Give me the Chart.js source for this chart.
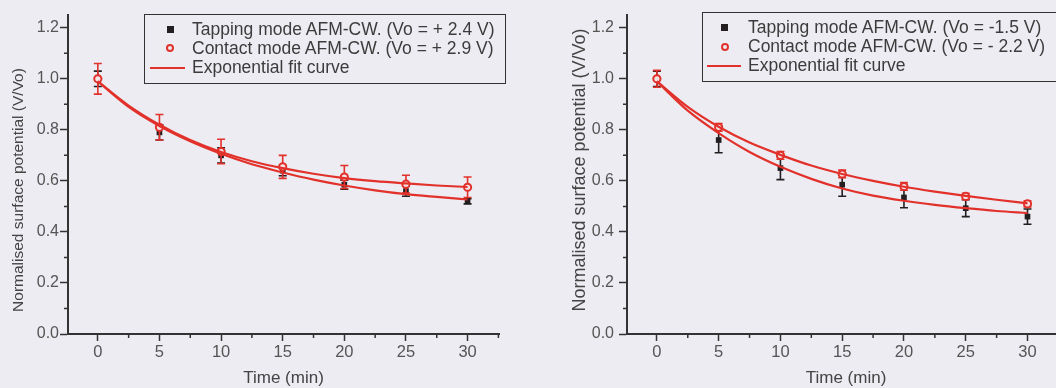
<!DOCTYPE html>
<html><head><meta charset="utf-8">
<script src="https://cdn.jsdelivr.net/npm/chart.js@4.4.1/dist/chart.umd.min.js"></script>
<style>
html,body{margin:0;padding:0;width:1056px;height:388px;overflow:hidden;background:#ececf2;font-family:"Liberation Sans",Arial,sans-serif;}
#c1{position:absolute;left:0;top:0;}
#w2{position:absolute;left:528px;top:0;width:528px;height:388px;overflow:hidden;}
#c2{position:absolute;left:0;top:0;}
.box{position:absolute;border:1.5px solid #333;box-sizing:border-box;}
.txt{position:absolute;white-space:nowrap;font-size:17.5px;color:#3c3c3c;line-height:20px;}
.sq{position:absolute;width:7px;height:7px;background:#231f20;}
.ci{position:absolute;width:8px;height:8px;border:2px solid #e2312b;border-radius:50%;box-sizing:border-box;}
.ln{position:absolute;height:2px;background:#e2312b;}
</style></head>
<body>
<canvas id="c1" width="528" height="388"></canvas>
<div id="w2"><canvas id="c2" width="540" height="388"></canvas></div>

<div class="box" style="left:144px;top:14px;width:362px;height:70px;"></div>
<div class="sq" style="left:167px;top:26px;"></div>
<div class="txt" style="left:192px;top:19px;" id="l1a"></div>
<div class="ci" style="left:166px;top:44px;"></div>
<div class="txt" style="left:192px;top:38px;" id="l1b"></div>
<div class="ln" style="left:150px;top:67px;width:35px;"></div>
<div class="txt" style="left:192px;top:57px;" id="l1c"></div>

<div class="box" style="left:702px;top:12px;width:400px;height:70px;"></div>
<div class="sq" style="left:721px;top:24px;"></div>
<div class="txt" style="left:748px;top:17px;" id="l2a"></div>
<div class="ci" style="left:721px;top:43px;"></div>
<div class="txt" style="left:748px;top:36px;" id="l2b"></div>
<div class="ln" style="left:707px;top:65px;width:34px;"></div>
<div class="txt" style="left:748px;top:55px;" id="l2c"></div>

<script>
// ---------- data ----------
const times = [0, 5, 10, 15, 20, 25, 30];
const fitTimes = [0, 2.5, 5, 7.5, 10, 12.5, 15, 17.5, 20, 22.5, 25, 27.5, 30];
const xTickValues = [0, 5, 10, 15, 20, 25, 30];
const xTickLabels = ['0', '5', '10', '15', '20', '25', '30'];
const xMinorTicks = [2.5, 7.5, 12.5, 17.5, 22.5, 27.5, 32.5];
const yTickValues = [0, 0.2, 0.4, 0.6, 0.8, 1.0, 1.2];
const yTickLabels = ['0.0', '0.2', '0.4', '0.6', '0.8', '1.0', '1.2'];
const yMinorTicks = [0.1, 0.3, 0.5, 0.7, 0.9, 1.1];

const xTitle = 'Time (min)';
const yTitle = 'Normalised surface potential (V/Vo)';
const legendLeft = ['Tapping mode AFM-CW. (Vo = + 2.4 V)', 'Contact mode AFM-CW. (Vo = + 2.9 V)', 'Exponential fit curve'];
const legendRight = ['Tapping mode AFM-CW. (Vo = -1.5 V)', 'Contact mode AFM-CW. (Vo = - 2.2 V)', 'Exponential fit curve'];

// left panel
const leftTapping    = [1.00, 0.79, 0.70, 0.64, 0.585, 0.56, 0.52];
const leftTappingErr = [0.03, 0.03, 0.03, 0.02, 0.018, 0.02, 0.01];
const leftContact    = [1.00, 0.81, 0.715, 0.655, 0.615, 0.587, 0.575];
const leftContactErr = [0.06, 0.05, 0.048, 0.045, 0.045, 0.035, 0.04];
const leftTappingFit = [0.99, 0.89, 0.815, 0.755, 0.706, 0.665, 0.633, 0.605, 0.582, 0.563, 0.548, 0.537, 0.527];
const leftContactFit = [0.99, 0.895, 0.82, 0.76, 0.713, 0.677, 0.650, 0.628, 0.611, 0.599, 0.590, 0.582, 0.576];

// right panel
const rightTapping    = [1.00, 0.76, 0.65, 0.585, 0.535, 0.493, 0.46];
const rightTappingErr = [0.03, 0.05, 0.045, 0.045, 0.04, 0.033, 0.03];
const rightContact    = [1.00, 0.81, 0.70, 0.627, 0.578, 0.539, 0.51];
const rightContactErr = [0.033, 0.015, 0.015, 0.015, 0.015, 0.012, 0.012];
const rightTappingFit = [0.99, 0.875, 0.787, 0.713, 0.655, 0.608, 0.570, 0.542, 0.522, 0.506, 0.493, 0.482, 0.474];
const rightContactFit = [0.99, 0.89, 0.812, 0.75, 0.702, 0.660, 0.627, 0.600, 0.577, 0.558, 0.541, 0.526, 0.512];

// ---------- legends ----------
['l1a','l1b','l1c'].forEach((id,i)=>document.getElementById(id).textContent = legendLeft[i]);
['l2a','l2b','l2c'].forEach((id,i)=>document.getElementById(id).textContent = legendRight[i]);

const RED = '#e2312b', BLACK = '#231f20', AXIS = '#333333', TICKTXT = '#555555';
const FONT = '"Liberation Sans", Arial, sans-serif';
const pts = (xs, ys) => xs.map((x, i) => ({x: x, y: ys[i]}));

const errorBars = {
  id: 'errorBars',
  beforeDatasetDraw(chart, args) {
    const ds = chart.data.datasets[args.index];
    if (!ds.errors) return;
    const ctx = chart.ctx, xs = chart.scales.x, ys = chart.scales.y;
    ctx.save();
    ctx.strokeStyle = ds.errColor;
    ctx.lineWidth = 1.6;
    ds.data.forEach((p, i) => {
      const e = ds.errors[i];
      const px = xs.getPixelForValue(p.x);
      const yt = ys.getPixelForValue(p.y + e);
      const yb = ys.getPixelForValue(p.y - e);
      ctx.beginPath();
      ctx.moveTo(px, yt); ctx.lineTo(px, yb);
      ctx.moveTo(px - 4, yt); ctx.lineTo(px + 4, yt);
      ctx.moveTo(px - 4, yb); ctx.lineTo(px + 4, yb);
      ctx.stroke();
    });
    ctx.restore();
  }
};

const extras = {
  id: 'extras',
  afterDraw(chart) {
    const o = chart.options.plugins.extras;
    const ctx = chart.ctx, xs = chart.scales.x, ys = chart.scales.y;
    const ca = chart.chartArea;
    ctx.save();
    ctx.strokeStyle = AXIS;
    ctx.lineWidth = 1.5;
    ctx.beginPath();
    xMinorTicks.forEach(v => { const px = xs.getPixelForValue(v); ctx.moveTo(px, ca.bottom); ctx.lineTo(px, ca.bottom + 4); });
    yMinorTicks.forEach(v => { const py = ys.getPixelForValue(v); ctx.moveTo(ca.left, py); ctx.lineTo(ca.left - 4, py); });
    ctx.stroke();
    // axis titles
    ctx.fillStyle = '#444';
    ctx.textAlign = 'center';
    ctx.textBaseline = 'middle';
    ctx.font = o.xFont + 'px ' + FONT;
    ctx.fillText(xTitle, (ca.left + ca.right) / 2 + o.xShift, o.xTitleY);
    ctx.translate(o.yTitleX, o.yTitleY);
    ctx.rotate(-Math.PI / 2);
    ctx.font = o.yFont + 'px ' + FONT;
    ctx.fillText(yTitle, 0, 0);
    ctx.restore();
  }
};

function makeChart(id, d, cfg) {
  return new Chart(document.getElementById(id), {
    type: 'scatter',
    data: {
      datasets: [
        {label: 'fitT', data: pts(fitTimes, d.tFit), showLine: true, borderColor: RED, borderWidth: 2.2,
         pointRadius: 0, cubicInterpolationMode: 'monotone', order: 1},
        {label: 'fitC', data: pts(fitTimes, d.cFit), showLine: true, borderColor: RED, borderWidth: 2.2,
         pointRadius: 0, cubicInterpolationMode: 'monotone', order: 2},
        {label: 'contact', data: pts(times, d.c), errors: d.cErr, errColor: RED, pointStyle: 'circle',
         pointRadius: 3.6, borderColor: RED, borderWidth: 2, backgroundColor: '#f4e4e6', order: 3},
        {label: 'tapping', data: pts(times, d.t), errors: d.tErr, errColor: BLACK, pointStyle: 'rect',
         pointRadius: 4, borderColor: BLACK, borderWidth: 0, backgroundColor: BLACK, order: 4}
      ]
    },
    options: {
      responsive: false, animation: false, devicePixelRatio: 1,
      layout: {padding: {left: 0, top: 15, right: cfg.padRight, bottom: 0}},
      plugins: {legend: {display: false}, tooltip: {enabled: false}, extras: cfg.extras},
      scales: {
        x: {
          type: 'linear', min: -2.42, max: 32.55,
          afterBuildTicks: s => { s.ticks = xTickValues.map(v => ({value: v})); },
          afterFit: s => { s.height = 54; },
          ticks: {callback: (v, i) => xTickLabels[i], color: TICKTXT, padding: 2,
                  font: {family: FONT, size: 16.5}, maxRotation: 0},
          grid: {drawOnChartArea: false, drawTicks: true, tickLength: 7, tickColor: AXIS, tickWidth: 1.5},
          border: {display: true, color: AXIS, width: 2}
        },
        y: {
          type: 'linear', min: 0, max: 1.25,
          afterBuildTicks: s => { s.ticks = yTickValues.map(v => ({value: v})); },
          afterFit: s => { s.width = cfg.yWidth; },
          ticks: {callback: (v, i) => yTickLabels[i], color: TICKTXT, padding: cfg.yPad,
                  font: {family: FONT, size: 16}},
          grid: {drawOnChartArea: false, drawTicks: true, tickLength: 8, tickColor: AXIS, tickWidth: 1.5},
          border: {display: true, color: AXIS, width: 2}
        }
      }
    },
    plugins: [errorBars, extras]
  });
}

makeChart('c1', {t: leftTapping, tErr: leftTappingErr, c: leftContact, cErr: leftContactErr,
                 tFit: leftTappingFit, cFit: leftContactFit},
  {padRight: 29, yWidth: 68, yPad: 1,
   extras: {xFont: 17, xShift: 0, xTitleY: 378, yFont: 15.5, yTitleX: 19, yTitleY: 190}});

makeChart('c2', {t: rightTapping, tErr: rightTappingErr, c: rightContact, cErr: rightContactErr,
                 tFit: rightTappingFit, cFit: rightContactFit},
  {padRight: 9, yWidth: 99, yPad: 5,
   extras: {xFont: 17, xShift: 3, xTitleY: 378, yFont: 18, yTitleX: 52, yTitleY: 170}});
</script>
</body></html>
